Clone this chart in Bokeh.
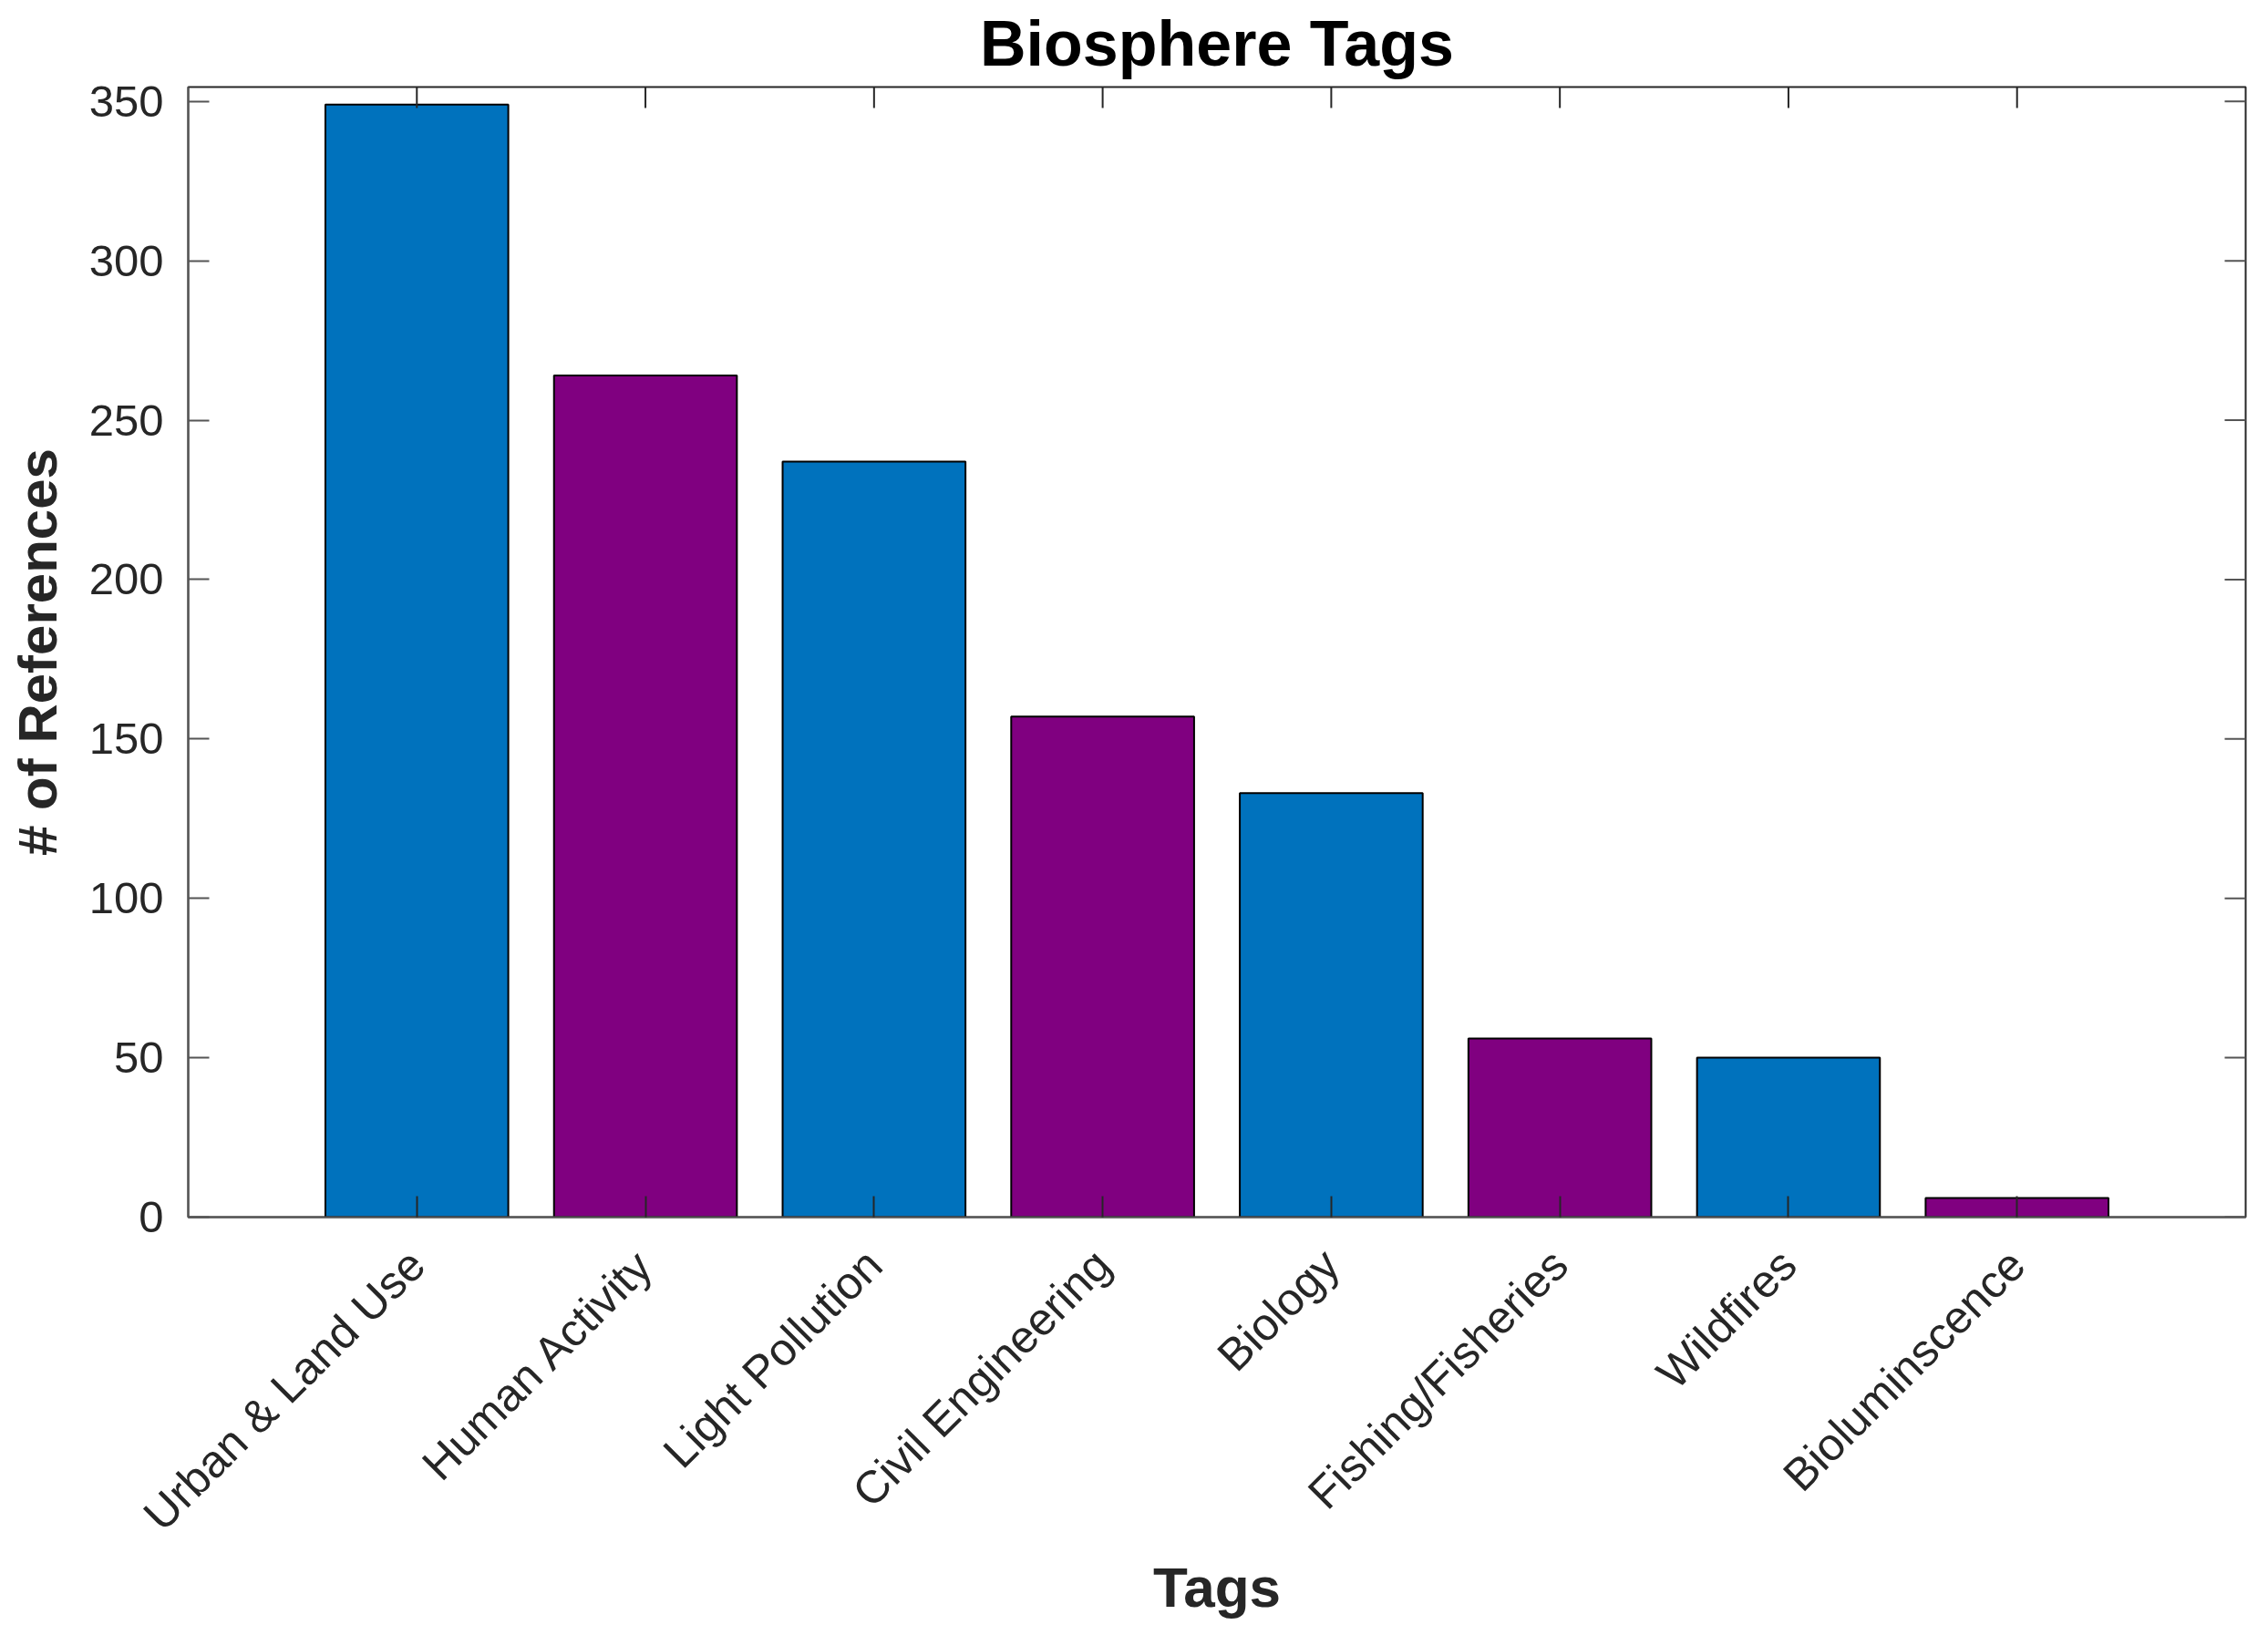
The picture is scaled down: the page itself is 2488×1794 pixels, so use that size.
import math
from bokeh.plotting import figure
from bokeh.models import Range1d, FixedTicker, ColumnDataSource
from bokeh.embed import file_html
from bokeh.resources import INLINE

categories = ["Urban & Land Use", "Human Activity", "Light Pollution", "Civil Engineering",
              "Biology", "Fishing/Fisheries", "Wildfires", "Bioluminscence"]
values = [349, 264, 237, 157, 133, 56, 50, 6]
bar_colors = ["#0072BD", "#800080", "#0072BD", "#800080",
              "#0072BD", "#800080", "#0072BD", "#800080"]
y_ticks = [0, 50, 100, 150, 200, 250, 300, 350]
y_max = 354.5
title_text = "Biosphere Tags"

positions = list(range(1, len(categories) + 1))
x_max = len(categories) + 1
src = ColumnDataSource(dict(x=positions, top=values, color=bar_colors, name=categories))

FONT = "Liberation Sans"
AX = "#262626"
AXL = "#555555"

p = figure(width=2472, height=1778, x_range=Range1d(0, x_max),
           y_range=Range1d(0, y_max), output_backend="svg", toolbar_location=None,
           min_border_left=206, min_border_right=9, min_border_top=95, min_border_bottom=442)
p.background_fill_color = "white"
p.border_fill_color = "white"
p.outline_line_color = AX
p.outline_line_width = 2
p.xgrid.visible = False
p.ygrid.visible = False

p.vbar(x="x", top="top", bottom=0, width=0.8, fill_color="color", line_color="#000000",
       line_width=2, source=src)

# mirrored box ticks on the top and right edges (clipped to the frame -> point inward)
p.scatter(x=positions, y=[y_max] * len(positions), marker="dash", size=46, angle=math.pi / 2,
          line_color=AX, line_width=2)
p.scatter(x=[x_max] * len(y_ticks), y=y_ticks, marker="dash", size=46,
          line_color=AXL, line_width=2)

# bottom axis
xa = p.xaxis[0]
xa.ticker = FixedTicker(ticks=positions)
xa.major_label_overrides = {pos: name for pos, name in zip(positions, categories)}
xa.major_label_orientation = math.pi / 4
xa.major_label_text_font = FONT
xa.major_label_text_font_size = "50px"
xa.major_label_text_color = AX
xa.major_label_standoff = 44
xa.major_tick_in = 23
xa.major_tick_out = 0
xa.minor_tick_line_color = None
xa.axis_line_color = AXL
xa.axis_line_width = 2
xa.major_tick_line_color = AX
xa.major_tick_line_width = 2
xa.axis_label = "Tags"
xa.axis_label_text_font = FONT
xa.axis_label_text_font_style = "bold"
xa.axis_label_text_font_size = "62px"
xa.axis_label_text_color = AX
xa.axis_label_standoff = -6

# left axis
ya = p.yaxis[0]
ya.ticker = FixedTicker(ticks=y_ticks)
ya.major_label_text_font = FONT
ya.major_label_text_font_size = "49px"
ya.major_label_text_color = AX
ya.major_label_standoff = 27
ya.major_tick_in = 23
ya.major_tick_out = 0
ya.minor_tick_line_color = None
ya.axis_line_color = AXL
ya.axis_line_width = 2
ya.major_tick_line_color = AXL
ya.major_tick_line_width = 2
ya.axis_label = "# of References"
ya.axis_label_text_font = FONT
ya.axis_label_text_font_style = "bold"
ya.axis_label_text_font_size = "60px"
ya.axis_label_text_color = AX
ya.axis_label_standoff = 20

p.title.text = title_text
p.title.align = "center"
p.title.vertical_align = "top"
p.title.text_font = FONT
p.title.text_font_style = "bold"
p.title.text_font_size = "70px"
p.title.text_color = "#000000"
p.title.standoff = 14

open("out.html", "w").write(file_html(p, INLINE))
